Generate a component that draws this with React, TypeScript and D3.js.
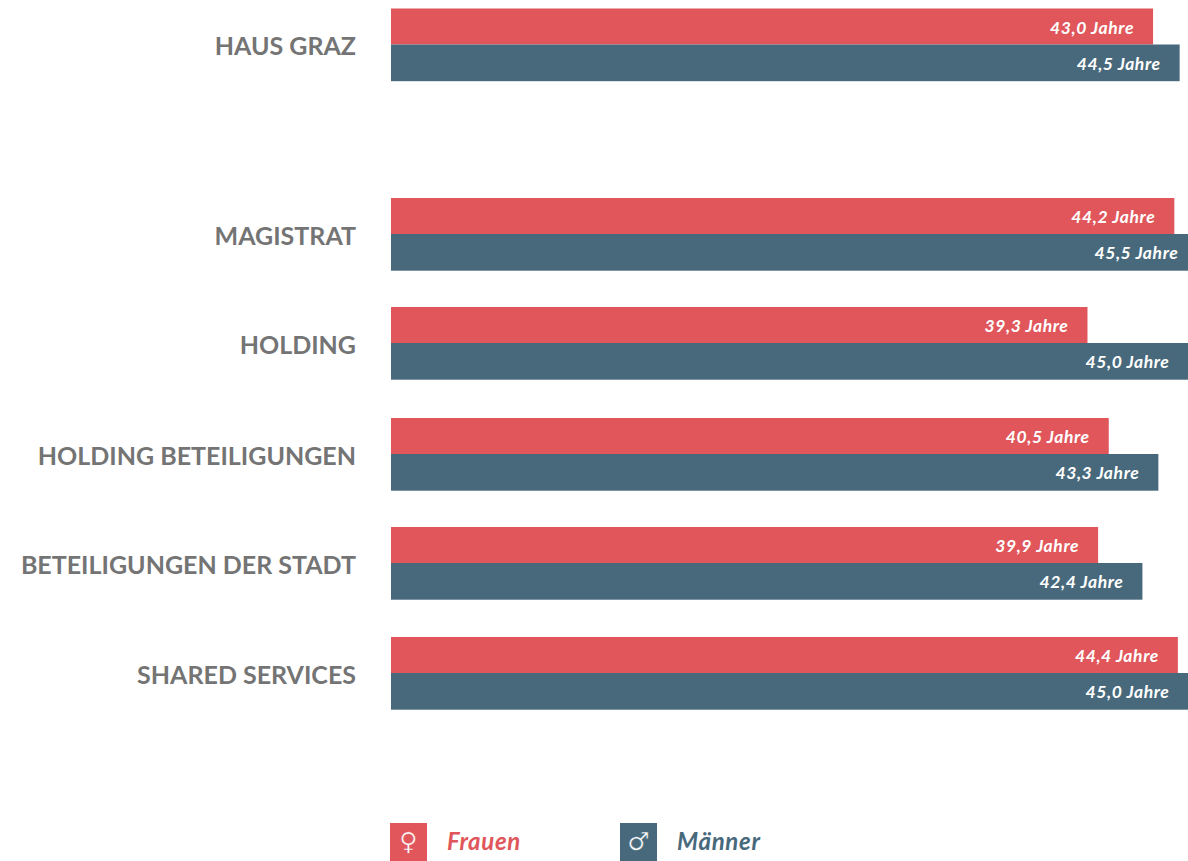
import React, { useEffect, useRef } from "react";
import * as d3 from "d3";

const categories = ["HAUS GRAZ", "MAGISTRAT", "HOLDING", "HOLDING BETEILIGUNGEN", "BETEILIGUNGEN DER STADT", "SHARED SERVICES"];
const frauen = [43.0, 44.2, 39.3, 40.5, 39.9, 44.4];
const maenner = [44.5, 45.5, 45.0, 43.3, 42.4, 45.0];
const seriesNames = ["Frauen", "Männer"];
const seriesSymbols = ["♀", "♂"];
const seriesColors = ["#e0565b", "#48697c"];

const WIDTH = 1188;
const HEIGHT = 861;
const LABEL_FONT = "Lato, sans-serif";

const fmt = (v: number) => v.toFixed(1).replace(".", ",") + " Jahre";

export default function App() {
	const ref = useRef<SVGSVGElement>(null);

	useEffect(() => {
		const svg = d3.select(ref.current);
		svg.selectAll("*").remove();

		const x = d3.scaleLinear().domain([0, 45]).range([391, 1188.5]);
		// Haus Graz sits apart from the other rows, so the row tops are not evenly spaced
		const rowTop = d3.scaleOrdinal<string, number>().domain(categories).range([8.5, 198, 307, 418, 527, 637]);
		const redH = 36;
		const blueH = 36.7;

		const rows = svg.selectAll("g.row").data(categories).enter().append("g").attr("class", "row");

		rows
			.append("text")
			.attr("x", 356)
			.attr("y", (d) => rowTop(d) + 46.5)
			.attr("text-anchor", "end")
			.attr("font-family", LABEL_FONT)
			.attr("font-weight", 700)
			.attr("font-size", 25)
			.attr("fill", "#747474")
			.text((d) => d);

		[frauen, maenner].forEach((values, s) => {
			rows
				.append("rect")
				.attr("x", x(0))
				.attr("y", (d) => rowTop(d) + s * redH)
				.attr("width", (d, i) => x(values[i]) - x(0))
				.attr("height", s ? blueH : redH)
				.attr("fill", seriesColors[s]);

			rows
				.append("text")
				.attr("x", (d, i) => x(values[i]) - 19)
				.attr("y", (d) => rowTop(d) + s * redH + 25)
				.attr("text-anchor", "end")
				.attr("font-family", LABEL_FONT)
				.attr("font-style", "italic")
				.attr("font-weight", 700)
				.attr("font-size", 17.5)
				.attr("letter-spacing", 0.6)
				.attr("fill", "#ffffff")
				.text((d, i) => fmt(values[i]));
		});

		const legend = svg
			.selectAll("g.legend")
			.data(seriesNames)
			.enter()
			.append("g")
			.attr("class", "legend")
			.attr("transform", (d, i) => `translate(${390 + i * 230},823)`);

		legend
			.append("rect")
			.attr("width", 37)
			.attr("height", 38)
			.attr("fill", (d, i) => seriesColors[i]);

		// stroke in the box colour thins the DejaVu glyph down to the hairline look of the original
		legend
			.append("text")
			.attr("x", 18.5)
			.attr("y", 27)
			.attr("text-anchor", "middle")
			.attr("font-family", "DejaVu Sans")
			.attr("font-size", 25)
			.attr("fill", "#ffffff")
			.attr("stroke", (d, i) => seriesColors[i])
			.attr("stroke-width", 0.5)
			.text((d, i) => seriesSymbols[i]);

		legend
			.append("text")
			.attr("x", 57)
			.attr("y", 27)
			.attr("font-family", LABEL_FONT)
			.attr("font-style", "italic")
			.attr("font-weight", 700)
			.attr("font-size", 24)
			.attr("letter-spacing", 0.7)
			.attr("fill", (d, i) => seriesColors[i])
			.text((d) => d);
	}, []);

	return <svg ref={ref} width={WIDTH} height={HEIGHT} style={{ position: "absolute", left: 0, top: 0 }} />;
}
